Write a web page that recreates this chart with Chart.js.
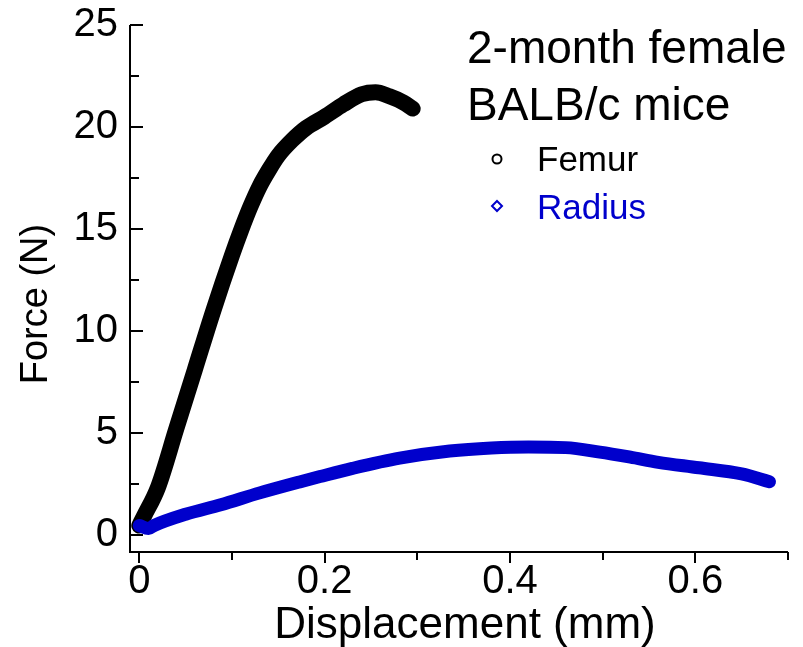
<!DOCTYPE html>
<html>
<head>
<meta charset="utf-8">
<script src="https://cdn.jsdelivr.net/npm/chart.js@4"></script>
<style>
  body { margin: 0; background: #fff; }
  #wrap { width: 803px; height: 647px; }
</style>
</head>
<body>
<div id="wrap"><canvas id="forceChart" width="803" height="647"></canvas></div>
<script>
// values
const femurX = [0, 0.005, 0.02, 0.04, 0.06, 0.08, 0.1, 0.11, 0.12, 0.13, 0.14, 0.15, 0.165, 0.18, 0.2, 0.22, 0.24, 0.255, 0.27, 0.285, 0.295];
const femurY = [0.45, 0.9, 2.3, 5.2, 8.1, 11.0, 13.7, 14.95, 16.1, 17.1, 17.9, 18.6, 19.35, 19.95, 20.5, 21.1, 21.6, 21.7, 21.5, 21.2, 20.9];

const radiusX = [0, 0.01, 0.016, 0.05, 0.088, 0.13, 0.174, 0.195, 0.23, 0.281, 0.335, 0.38, 0.42, 0.46, 0.497, 0.53, 0.56, 0.604, 0.65, 0.68];
const radiusY = [0.45, 0.3, 0.45, 1.0, 1.47, 2.05, 2.6, 2.85, 3.25, 3.75, 4.1, 4.25, 4.3, 4.27, 4.05, 3.8, 3.55, 3.28, 2.98, 2.6];

const xMajorTicks = [0, 0.2, 0.4, 0.6];
const xMinorTicks = [0.1, 0.3, 0.5, 0.7];
const yMajorTicks = [0, 5, 10, 15, 20, 25];
const yMinorTicks = [2.5, 7.5, 12.5, 17.5, 22.5];

const titleLines = ['2-month female', 'BALB/c mice'];
const seriesNames = ['Femur', 'Radius'];

const FONT = "'Liberation Sans', Arial, sans-serif";
const BLUE = '#0000cc';

function toPoints(xs, ys) {
    return xs.map((x, i) => ({ x: x, y: ys[i] }));
}

// axis lines, inward y ticks, outward x ticks, axis titles and the legend block
const decorPlugin = {
    id: 'decor',
    afterDraw(chart) {
        const ctx = chart.ctx;
        const xs = chart.scales.x;
        const ys = chart.scales.y;
        const area = chart.chartArea;
        ctx.save();
        ctx.strokeStyle = '#000';
        ctx.lineWidth = 2;
        ctx.beginPath();
        ctx.moveTo(area.left, area.top);
        ctx.lineTo(area.left, area.bottom);
        ctx.lineTo(area.right, area.bottom);
        ctx.stroke();

        ctx.beginPath();
        yMajorTicks.forEach(v => {
            const py = Math.round(ys.getPixelForValue(v));
            ctx.moveTo(area.left, py);
            ctx.lineTo(area.left + 13, py);
        });
        yMinorTicks.forEach(v => {
            const py = Math.round(ys.getPixelForValue(v));
            ctx.moveTo(area.left, py);
            ctx.lineTo(area.left + 9, py);
        });
        xMajorTicks.forEach(v => {
            const px = Math.round(xs.getPixelForValue(v));
            ctx.moveTo(px, area.bottom);
            ctx.lineTo(px, area.bottom + 11);
        });
        xMinorTicks.forEach(v => {
            const px = Math.round(xs.getPixelForValue(v));
            ctx.moveTo(px, area.bottom);
            ctx.lineTo(px, area.bottom + 8);
        });
        ctx.stroke();

        // axis titles
        ctx.fillStyle = '#000';
        ctx.textAlign = 'center';
        ctx.textBaseline = 'middle';
        ctx.font = '44px ' + FONT;
        ctx.fillText('Displacement (mm)', 465, 626);
        ctx.save();
        ctx.translate(37, 304);
        ctx.rotate(-Math.PI / 2);
        ctx.font = '38px ' + FONT;
        ctx.fillText('Force (N)', 0, 0);
        ctx.restore();

        // annotation
        ctx.textAlign = 'left';
        ctx.textBaseline = 'alphabetic';
        ctx.font = '46px ' + FONT;
        ctx.fillText(titleLines[0], 467, 63);
        ctx.fillText(titleLines[1], 467, 120);

        // legend
        ctx.font = '35px ' + FONT;
        ctx.fillText(seriesNames[0], 537, 171);
        ctx.fillStyle = BLUE;
        ctx.fillText(seriesNames[1], 537, 219);

        ctx.lineWidth = 2;
        ctx.strokeStyle = '#000';
        ctx.beginPath();
        ctx.arc(497, 159, 4.5, 0, Math.PI * 2);
        ctx.stroke();
        ctx.strokeStyle = BLUE;
        ctx.beginPath();
        ctx.moveTo(497, 201);
        ctx.lineTo(502, 206);
        ctx.lineTo(497, 211);
        ctx.lineTo(492, 206);
        ctx.closePath();
        ctx.stroke();
        ctx.restore();
    }
};

const ctx = document.getElementById('forceChart').getContext('2d');
const forceChart = new Chart(ctx, {
    type: 'line',
    data: {
        datasets: [{
            label: seriesNames[0],
            data: toPoints(femurX, femurY),
            borderColor: '#000',
            borderWidth: 16,
            borderCapStyle: 'round',
            borderJoinStyle: 'round',
            pointRadius: 0,
            cubicInterpolationMode: 'monotone',
            order: 1
        }, {
            label: seriesNames[1],
            data: toPoints(radiusX, radiusY),
            borderColor: BLUE,
            borderWidth: 13,
            borderCapStyle: 'round',
            borderJoinStyle: 'round',
            pointRadius: 0,
            cubicInterpolationMode: 'monotone',
            order: 0
        }]
    },
    options: {
        responsive: false,
        animation: false,
        layout: {
            padding: { top: 25, right: 15, left: 0, bottom: 0 }
        },
        plugins: {
            legend: { display: false },
            tooltip: { enabled: false }
        },
        scales: {
            x: {
                type: 'linear',
                min: -0.01,
                max: 0.7,
                grid: { display: false, drawTicks: false },
                border: { display: false },
                afterBuildTicks: function(scale) {
                    scale.ticks = xMajorTicks.map(v => ({ value: v }));
                },
                afterFit: function(scale) {
                    scale.height = 95;
                    scale.paddingLeft = 0;
                    scale.paddingRight = 0;
                },
                ticks: {
                    padding: 6,
                    color: '#000',
                    maxRotation: 0,
                    autoSkip: false,
                    font: { family: FONT, size: 40 },
                    callback: function(value) {
                        return value === 0 ? '0' : value.toFixed(1);
                    }
                }
            },
            y: {
                type: 'linear',
                min: -0.85,
                max: 25,
                grid: { display: false, drawTicks: false },
                border: { display: false },
                afterBuildTicks: function(scale) {
                    scale.ticks = yMajorTicks.map(v => ({ value: v }));
                },
                afterFit: function(scale) {
                    scale.width = 130;
                    scale.paddingTop = 0;
                    scale.paddingBottom = 0;
                },
                ticks: {
                    padding: 12,
                    color: '#000',
                    autoSkip: false,
                    font: { family: FONT, size: 40 }
                }
            }
        }
    },
    plugins: [decorPlugin]
});
</script>
</body>
</html>
